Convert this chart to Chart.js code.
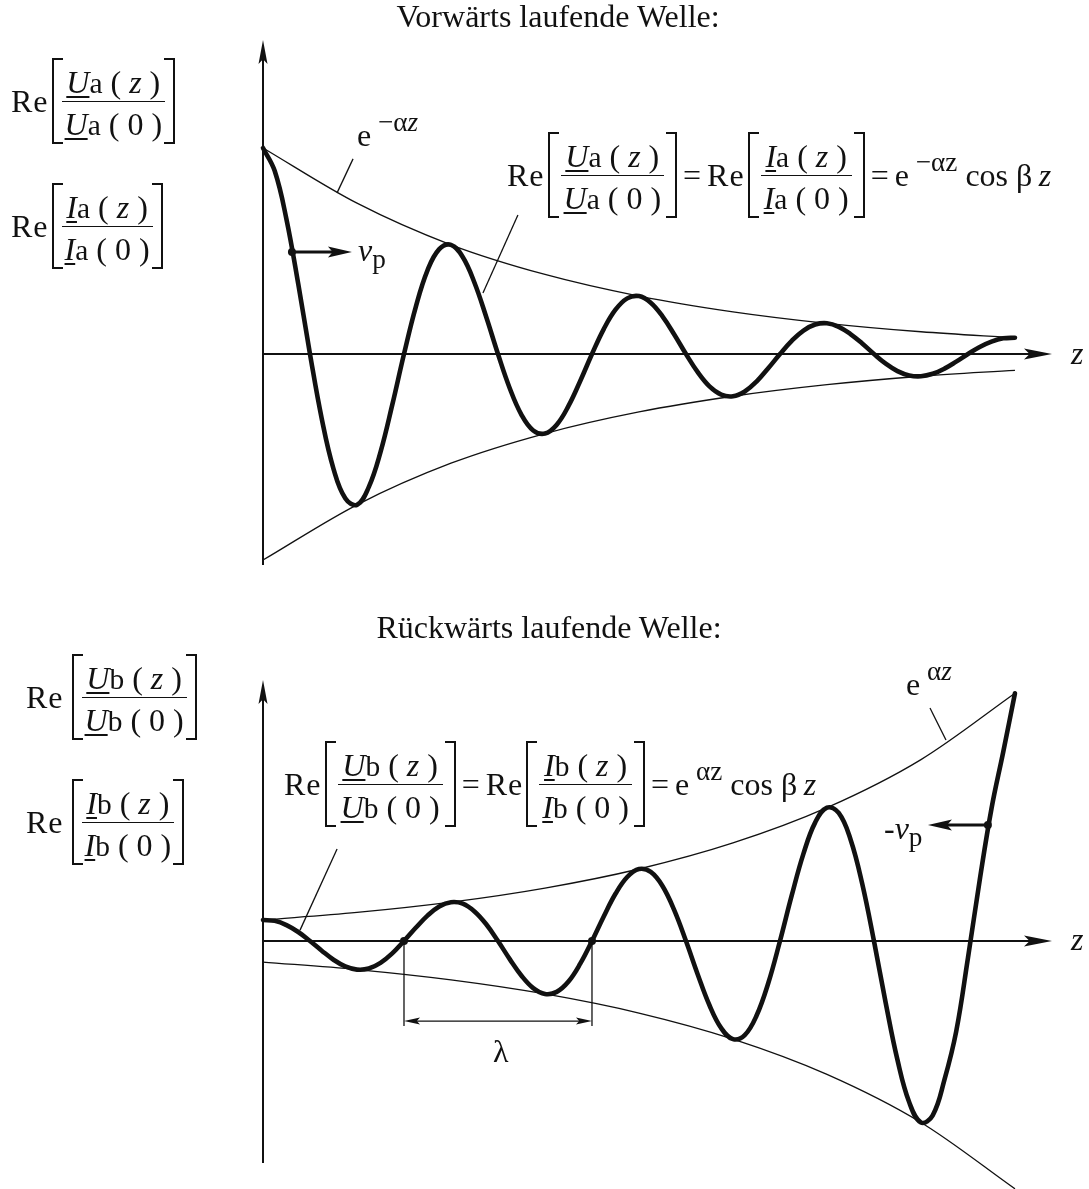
<!DOCTYPE html>
<html>
<head>
<meta charset="utf-8">
<script src="https://cdn.jsdelivr.net/npm/chart.js@4.4.1/dist/chart.umd.min.js"></script>
<style>
html,body{margin:0;padding:0;background:#fff;}
body{width:1089px;height:1189px;position:relative;overflow:hidden;font-family:"Liberation Serif","Times New Roman",serif;color:#111;}
canvas{position:absolute;left:0;}
#cf{top:0;}
#cb{top:595px;}
.t{position:absolute;white-space:nowrap;font-size:32px;line-height:1;}
.c{transform:translateX(-50%);}
.f{position:absolute;display:flex;align-items:center;white-space:nowrap;font-size:32px;line-height:1;}
.re{letter-spacing:1px;margin-right:3px;}
.wide .re{margin-right:8px;}
.brk{position:relative;padding:1px 10px;}
.long .brk{padding:1px 13px;}
.brk::before,.brk::after{content:"";position:absolute;top:0;bottom:0;width:9px;border:2px solid #111;}
.brk::before{left:0;border-right:none;}
.brk::after{right:0;border-left:none;}
.frac{display:flex;flex-direction:column;text-align:center;}
.n{line-height:36px;padding:5px 3px 0;border-bottom:1.6px solid #111;}
.d{line-height:36px;padding:4px 3px 0;}
.u{text-decoration:underline;text-decoration-thickness:2px;text-underline-offset:3px;font-style:italic;}
.s{font-size:0.92em;}
i{font-style:italic;}
.eq{margin:0 6px;}
.sup{font-size:0.85em;position:relative;top:-0.55em;}
.sub{font-size:0.85em;position:relative;top:0.25em;}
</style>
</head>
<body>
<canvas id="cf" width="1089" height="595"></canvas>
<canvas id="cb" width="1089" height="594"></canvas>

<div class="t c" style="left:558px;top:0px;">Vorwärts laufende Welle:</div>
<div class="t c" style="left:549px;top:611px;">Rückwärts laufende Welle:</div>

<div class="f" id="fa1" style="left:11px;top:58px;"></div>
<div class="f" id="fa2" style="left:11px;top:183px;"></div>
<div class="f long" id="fa3" style="left:507px;top:132px;"></div>
<div class="f wide" id="fb1" style="left:26px;top:654px;"></div>
<div class="f wide" id="fb2" style="left:26px;top:779px;"></div>
<div class="f long" id="fb3" style="left:284px;top:741px;"></div>

<div class="t" style="left:357px;top:119px;">e<span class="sup"> −α<i>z</i></span></div>
<div class="t" style="left:358px;top:234px;"><i>v</i><span class="sub">p</span></div>
<div class="t" style="left:906px;top:668px;">e<span class="sup"> α<i>z</i></span></div>
<div class="t" style="left:884px;top:812px;">-<i>v</i><span class="sub">p</span></div>
<div class="t" style="left:493px;top:1035px;">λ</div>
<div class="t" style="left:1071px;top:337px;"><i>z</i></div>
<div class="t" style="left:1071px;top:923px;"><i>z</i></div>

<script>
// Position along the line, in wavelengths
const zCurve = [0, 0.0625, 0.125, 0.1875, 0.25, 0.3125, 0.375, 0.4375,
                0.5, 0.5625, 0.625, 0.6875, 0.75, 0.8125, 0.875, 0.9375,
                1, 1.0625, 1.125, 1.1875, 1.25, 1.3125, 1.375, 1.4375,
                1.5, 1.5625, 1.625, 1.6875, 1.75, 1.8125, 1.875, 1.9375,
                2, 2.0625, 2.125, 2.1875, 2.25, 2.3125, 2.375, 2.4375,
                2.5, 2.5625, 2.625, 2.6875, 2.75, 2.8125, 2.875, 2.9375,
                3, 3.0625, 3.125, 3.1875, 3.25, 3.3125, 3.375, 3.4375,
                3.5, 3.5625, 3.625, 3.6875, 3.75, 3.8125, 3.875, 3.9375, 4];

// Forward wave: Re[Ua(z)/Ua(0)] = e^(-αz) cos βz
const forwardWave = [1.000, 0.888, 0.653, 0.340, 0.000, -0.314, -0.557, -0.700,
                     -0.732, -0.646, -0.476, -0.247, 0.000, 0.228, 0.406, 0.509,
                     0.530, 0.471, 0.346, 0.180, 0.000, -0.166, -0.295, -0.371,
                     -0.386, -0.343, -0.252, -0.131, 0.000, 0.121, 0.215, 0.270,
                     0.281, 0.249, 0.183, 0.095, 0.000, -0.088, -0.157, -0.197,
                     -0.205, -0.182, -0.134, -0.069, 0.000, 0.064, 0.114, 0.143,
                     0.149, 0.132, 0.097, 0.051, 0.000, -0.047, -0.083, -0.104,
                     -0.108, -0.096, -0.071, -0.037, 0.000, 0.034, 0.060, 0.076, 0.079];

// Backward wave: Re[Ub(z)/Ub(0)] = e^(αz) cos βz
const backwardWave = [1.00, 0.96, 0.76, 0.43, 0.00, -0.46, -0.89, -1.21,
                      -1.36, -1.31, -1.04, -0.59, 0.00, 0.63, 1.21, 1.65,
                      1.85, 1.78, 1.41, 0.80, 0.00, -0.86, -1.65, -2.24,
                      -2.52, -2.42, -1.93, -1.08, 0.00, 1.17, 2.25, 3.05,
                      3.43, 3.29, 2.62, 1.47, 0.00, -1.59, -3.06, -4.15,
                      -4.67, -4.48, -3.56, -2.01, 0.00, 2.17, 4.16, 5.65,
                      6.35, 6.10, 4.85, 2.73, 0.00, -2.95, -5.66, -7.68,
                      -8.64, -8.30, -6.60, -4.30, -0.80, 2.90, 6.30, 9.00, 11.8];

// Envelopes
const zEnvelope = [0, 0.5, 1, 1.5, 2, 2.5, 3, 3.5, 4];
const forwardEnvelope = [1.000, 0.732, 0.530, 0.386, 0.281, 0.205, 0.149, 0.108, 0.079];
const backwardEnvelope = [1.00, 1.36, 1.85, 2.52, 3.43, 4.67, 6.35, 8.64, 11.8];

// Formula labels
function ratio(sym, sub) {
  return '<span class="re">Re</span><span class="brk"><span class="frac">' +
    '<span class="n"><span class="u">' + sym + '</span><span class="s">' + sub + '</span> ( <i>z</i> )</span>' +
    '<span class="d"><span class="u">' + sym + '</span><span class="s">' + sub + '</span> ( 0 )</span>' +
    '</span></span>';
}
document.getElementById('fa1').innerHTML = ratio('U', 'a');
document.getElementById('fa2').innerHTML = ratio('I', 'a');
document.getElementById('fa3').innerHTML = ratio('U', 'a') + '<span class="eq">=</span>' + ratio('I', 'a') +
  '<span class="eq">=</span><span>e<span class="sup"> −αz</span> cos β&thinsp;<i>z</i></span>';
document.getElementById('fb1').innerHTML = ratio('U', 'b');
document.getElementById('fb2').innerHTML = ratio('I', 'b');
document.getElementById('fb3').innerHTML = ratio('U', 'b') + '<span class="eq">=</span>' + ratio('I', 'b') +
  '<span class="eq">=</span><span>e<span class="sup"> αz</span> cos β&thinsp;<i>z</i></span>';

const INK = '#111';

function arrowHead(ctx, tx, ty, dx, dy, len, half) {
  const px = -dy, py = dx;
  ctx.beginPath();
  ctx.moveTo(tx, ty);
  ctx.lineTo(tx - dx * len + px * half, ty - dy * len + py * half);
  ctx.lineTo(tx - dx * len * 0.8, ty - dy * len * 0.8);
  ctx.lineTo(tx - dx * len - px * half, ty - dy * len - py * half);
  ctx.closePath();
  ctx.fill();
}

function line(ctx, x1, y1, x2, y2, w) {
  ctx.lineWidth = w;
  ctx.beginPath();
  ctx.moveTo(x1, y1);
  ctx.lineTo(x2, y2);
  ctx.stroke();
}

function dot(ctx, x, y, r) {
  ctx.beginPath();
  ctx.arc(x, y, r, 0, Math.PI * 2);
  ctx.fill();
}

// Axes with arrow heads, drawn under the curves
const axesPlugin = {
  id: 'arrowAxes',
  beforeDatasetsDraw(chart) {
    const { ctx, chartArea: a, scales: { x, y } } = chart;
    const x0 = x.getPixelForValue(0), y0 = y.getPixelForValue(0);
    ctx.save();
    ctx.strokeStyle = INK; ctx.fillStyle = INK; ctx.lineCap = 'butt';
    line(ctx, x0, a.bottom, x0, a.top + 15, 2);
    arrowHead(ctx, x0, a.top, 0, -1, 24, 4.5);
    line(ctx, x0, y0, a.right - 15, y0, 2);
    arrowHead(ctx, a.right, y0, 1, 0, 28, 5.5);
    ctx.restore();
  }
};

// Leader lines, velocity arrows and wavelength marker
const notesPlugin = {
  id: 'notes',
  afterDatasetsDraw(chart, args, opts) {
    const { ctx, scales: { x, y } } = chart;
    const P = (p) => [x.getPixelForValue(p[0]), y.getPixelForValue(p[1])];
    ctx.save();
    ctx.strokeStyle = INK; ctx.fillStyle = INK;
    (opts.leaders || []).forEach(l => {
      const a = P(l[0]), b = P(l[1]);
      line(ctx, a[0], a[1], b[0], b[1], 1.3);
    });
    (opts.velocity || []).forEach(v => {
      const a = P(v.from), b = P(v.to);
      const dir = Math.sign(b[0] - a[0]);
      dot(ctx, a[0], a[1], 4);
      line(ctx, a[0], a[1], b[0] - dir * 18, b[1], 3);
      arrowHead(ctx, b[0], b[1], dir, 0, 24, 5.5);
    });
    (opts.dots || []).forEach(d => { const p = P(d); dot(ctx, p[0], p[1], 4); });
    if (opts.span) {
      const s = opts.span;
      const a = P([s.from, 0]), b = P([s.to, 0]);
      const yEnd = y.getPixelForValue(s.bottom), yBar = y.getPixelForValue(s.bar);
      line(ctx, a[0], a[1], a[0], yEnd, 1.3);
      line(ctx, b[0], b[1], b[0], yEnd, 1.3);
      line(ctx, a[0] + 10, yBar, b[0] - 10, yBar, 1.3);
      arrowHead(ctx, a[0], yBar, -1, 0, 16, 3.5);
      arrowHead(ctx, b[0], yBar, 1, 0, 16, 3.5);
    }
    ctx.restore();
  }
};

function pts(xs, ys, sign) {
  return xs.map((z, i) => ({ x: z, y: sign * ys[i] }));
}

function makeChart(id, wave, env, yMin, yMax, padding, notes) {
  const thin = { borderColor: INK, borderWidth: 1.3, pointRadius: 0, cubicInterpolationMode: 'monotone', clip: false, fill: false };
  return new Chart(document.getElementById(id), {
    type: 'line',
    data: {
      datasets: [
        Object.assign({ data: pts(zEnvelope, env, 1) }, thin),
        Object.assign({ data: pts(zEnvelope, env, -1) }, thin),
        { data: pts(zCurve, wave, 1), borderColor: INK, borderWidth: 4.6, pointRadius: 0,
          tension: 0.4, clip: false, fill: false,
          borderCapStyle: 'round', borderJoinStyle: 'round' }
      ]
    },
    options: {
      responsive: false, animation: false, devicePixelRatio: 1,
      layout: { padding },
      scales: {
        x: { type: 'linear', display: false, min: 0, max: 4.197 },
        y: { type: 'linear', display: false, min: yMin, max: yMax }
      },
      plugins: { legend: { display: false }, tooltip: { enabled: false }, notes }
    },
    plugins: [axesPlugin, notesPlugin]
  });
}

makeChart('cf', forwardWave, forwardEnvelope, -1.024, 1.524,
  { left: 263, right: 37, top: 40, bottom: 30 },
  {
    leaders: [[[0.394, 0.782], [0.479, 0.947]], [[1.170, 0.296], [1.356, 0.675]]],
    velocity: [{ from: [0.154, 0.495], to: [0.473, 0.495] }]
  });

makeChart('cb', backwardWave, backwardEnvelope, -10.57, 12.43,
  { left: 263, right: 37, top: 85, bottom: 26 },
  {
    leaders: [[[0.197, 0.52], [0.394, 4.38]], [[3.633, 9.57], [3.548, 11.1]]],
    velocity: [{ from: [3.856, 5.52], to: [3.537, 5.52] }],
    dots: [[0.75, 0], [1.75, 0]],
    span: { from: 0.75, to: 1.75, bottom: -4.05, bar: -3.81 }
  });
</script>
</body>
</html>
